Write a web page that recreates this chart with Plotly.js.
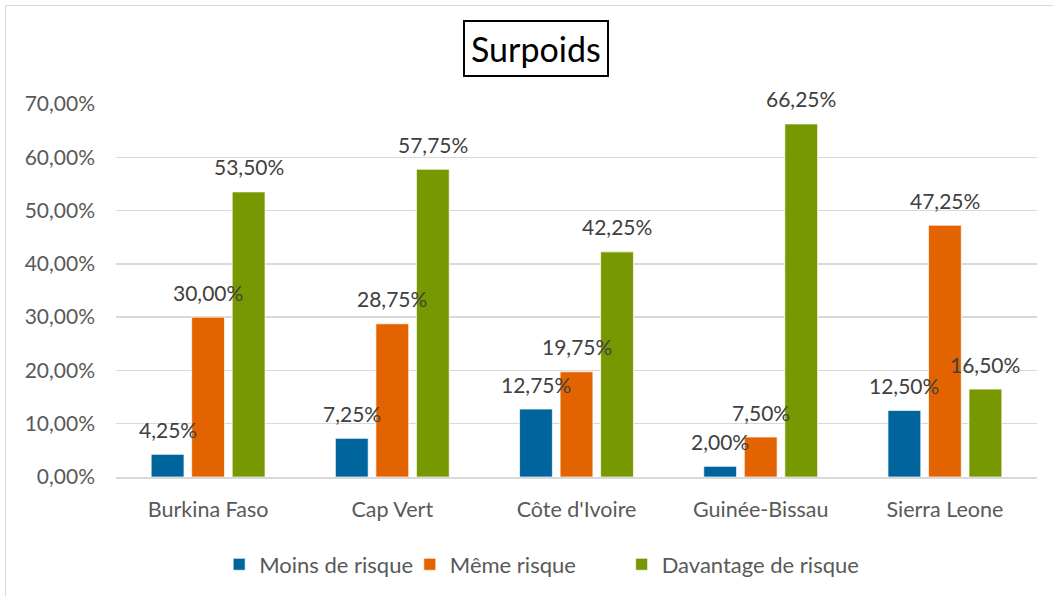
<!DOCTYPE html>
<html>
<head>
<meta charset="utf-8">
<script src="https://cdn.plot.ly/plotly-3.0.1.min.js"></script>
<style>
  html, body { margin: 0; padding: 0; background: #ffffff; overflow: hidden; }
  #frame { position: absolute; left: 5px; top: 5px; width: 1060px; height: 600px; border: 1px solid #d9d9d9; }
  #chart { position: absolute; left: 0; top: 0; width: 1047px; height: 590px; }
</style>
</head>
<body>
<div id="frame"><div id="chart"></div></div>
<script>
// ---- data ----
const categories = ["Burkina Faso", "Cap Vert", "Côte d'Ivoire", "Guinée-Bissau", "Sierra Leone"];
const seriesNames = ["Moins de risque", "Même risque", "Davantage de risque"];
const moinsDeRisque = [4.25, 7.25, 12.75, 2.00, 12.50];
const memeRisque = [30.00, 28.75, 19.75, 7.50, 47.25];
const davantageDeRisque = [53.50, 57.75, 42.25, 66.25, 16.50];
const yTickValues = [0, 10, 20, 30, 40, 50, 60, 70];
const chartTitle = "Surpoids";

// ---- styles ----
const colors = ["#00659c", "#e36300", "#779800"];
const FONT = "Lato, 'Open Sans', sans-serif";
const BARGAP = 0.34;
const BARGROUPGAP = 0.19;
const legendX = [0.112, 0.319, 0.549];
const legendIds = ['legend', 'legend2', 'legend3'];

const seriesValues = [moinsDeRisque, memeRisque, davantageDeRisque];
const fmt = v => v.toFixed(2).replace('.', ',') + '%';

const traces = seriesValues.map((vals, j) => ({
  type: 'bar',
  name: seriesNames[j],
  x: categories,
  y: vals,
  legend: legendIds[j],
  marker: { color: colors[j], line: { color: 'rgba(255,255,255,0.7)', width: 1 } },
  hoverinfo: 'x+y'
}));

// data labels placed above each bar, positioned via the axis scales
const slot = (1 - BARGAP) / seriesValues.length;
const annotations = [];
seriesValues.forEach((vals, j) => {
  vals.forEach((v, i) => {
    annotations.push({
      xref: 'x', yref: 'y',
      x: i + (j - (seriesValues.length - 1) / 2) * slot,
      y: v,
      text: fmt(v),
      showarrow: false,
      yanchor: 'middle',
      yshift: 25,
      font: { family: FONT, size: 21, color: '#404040' }
    });
  });
});
// boxed title
annotations.push({
  xref: 'paper', yref: 'paper',
  x: 0.456, y: 1.148,
  xanchor: 'center', yanchor: 'middle',
  text: chartTitle,
  showarrow: false,
  font: { family: FONT, size: 34, color: '#000000' },
  bordercolor: '#000000', borderwidth: 2, borderpad: 6,
  bgcolor: '#ffffff'
});

const layout = {
  width: 1047, height: 590,
  margin: { l: 110, r: 16, t: 98, b: 118 },
  paper_bgcolor: '#ffffff',
  plot_bgcolor: '#ffffff',
  separators: ', ',
  font: { family: FONT, size: 21, color: '#595959' },
  barmode: 'group',
  bargap: BARGAP,
  bargroupgap: BARGROUPGAP,
  showlegend: true,
  xaxis: {
    type: 'category',
    showgrid: false,
    showline: true, linecolor: '#d9d9d9', linewidth: 2,
    ticks: '',
    ticklabelstandoff: 12,
    tickfont: { family: FONT, size: 21.5, color: '#595959' },
    fixedrange: true
  },
  yaxis: {
    range: [0, 70],
    tickvals: yTickValues,
    ticktext: yTickValues.map(fmt),
    showgrid: true, gridcolor: '#d9d9d9', gridwidth: 1.5,
    zeroline: false,
    showline: false,
    ticks: '',
    ticklabelstandoff: 20,
    tickfont: { family: FONT, size: 21, color: '#595959' },
    fixedrange: true
  },
  annotations: annotations
};
legendIds.forEach((id, j) => {
  layout[id] = {
    orientation: 'h',
    x: legendX[j], xanchor: 'left',
    y: -0.175, yanchor: 'top',
    bgcolor: 'rgba(0,0,0,0)',
    font: { family: FONT, size: 22, color: '#595959' },
    itemclick: false
  };
});

Plotly.newPlot('chart', traces, layout, { displayModeBar: false, staticPlot: true });
</script>
</body>
</html>
